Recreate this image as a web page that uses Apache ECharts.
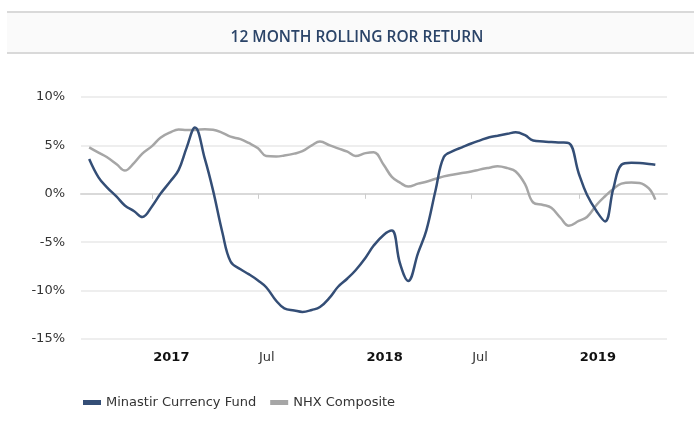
<!DOCTYPE html>
<html>
<head>
<meta charset="utf-8">
<title>12 Month Rolling ROR Return</title>
<script src="https://cdn.jsdelivr.net/npm/echarts@6/dist/echarts.min.js"></script>
<style>
  html, body { margin: 0; padding: 0; background: #fff; }
  #rorView { width: 700px; height: 428px; }
</style>
</head>
<body>
<div id="rorView"></div>
<script>
// semi-monthly dates
var dates = [
  '2016-09-15', '2016-10-01', '2016-10-15', '2016-11-01', '2016-11-15', '2016-12-01', '2016-12-15',
  '2017-01-01', '2017-01-15', '2017-02-01', '2017-02-15', '2017-03-01', '2017-03-15', '2017-04-01', '2017-04-15',
  '2017-05-01', '2017-05-15', '2017-06-01', '2017-06-15', '2017-07-01', '2017-07-15', '2017-08-01', '2017-08-15',
  '2017-09-01', '2017-09-15', '2017-10-01', '2017-10-15', '2017-11-01', '2017-11-15', '2017-12-01', '2017-12-15',
  '2018-01-01', '2018-01-15', '2018-02-01', '2018-02-15', '2018-03-01', '2018-03-15', '2018-04-01', '2018-04-15',
  '2018-05-01', '2018-05-15', '2018-06-01', '2018-06-15', '2018-07-01', '2018-07-15', '2018-08-01', '2018-08-15',
  '2018-09-01', '2018-09-15', '2018-10-01', '2018-10-15', '2018-11-01', '2018-11-15', '2018-12-01', '2018-12-15',
  '2019-01-01', '2019-01-15', '2019-02-01', '2019-02-15', '2019-03-01', '2019-03-15', '2019-04-01', '2019-04-15',
  '2019-05-01', '2019-05-12'
];

// Minastir Currency Fund, %
var fundData = [
  3.6, 1.7, 0.7, -0.3, -1.2, -1.8, -2.4,
  -1.25, 0.0, 1.3, 2.45, 4.8, 6.85, 3.6, 0.35,
  -4.0, -7.0, -7.8, -8.3, -8.95, -9.65, -11.05, -11.83,
  -12.05, -12.2, -12.0, -11.7, -10.7, -9.6, -8.75, -7.9,
  -6.6, -5.35, -4.25, -3.8, -7.2, -9.0, -6.1, -3.8,
  0.4, 3.8, 4.45, 4.8, 5.2, 5.5, 5.84, 6.0,
  6.2, 6.35, 6.05, 5.5, 5.4, 5.35, 5.3, 5.23,
  2.1, -0.1, -1.85, -2.85, 0.5, 3.0, 3.2, 3.17,
  3.08, 3.0
];

// NHX Composite, %
var nhxData = [
  4.8, 4.25, 3.8, 3.05, 2.4, 3.2, 4.15,
  4.95, 5.8, 6.35, 6.65, 6.6, 6.6, 6.67, 6.62,
  6.3, 5.9, 5.65, 5.25, 4.7, 3.9, 3.85, 3.95,
  4.15, 4.4, 5.0, 5.4, 5.0, 4.7, 4.35, 3.9,
  4.2, 4.3, 3.0, 1.75, 1.15, 0.75, 1.05, 1.25,
  1.55, 1.8, 2.0, 2.15, 2.3, 2.5, 2.7, 2.85,
  2.65, 2.3, 1.0, -0.9, -1.15, -1.45, -2.5, -3.3,
  -2.8, -2.4, -1.1, -0.25, 0.5, 1.05, 1.17, 1.12,
  0.55, -0.6
];

var xTicks = ['2017-01-01', '2017-07-01', '2018-01-01', '2018-07-01', '2019-01-01'];
var seriesNames = ['Minastir Currency Fund', 'NHX Composite'];

function toTime(d) {
    var p = d.split('-');
    return Date.UTC(+p[0], +p[1] - 1, +p[2]);
}
function pairs(vals) {
    return dates.map(function (d, i) { return [toTime(d), vals[i]]; });
}
var tickTimes = xTicks.map(toTime);
var font = 'DejaVu Sans';

var chart = echarts.init(document.getElementById('rorView'));
chart.setOption({
    animation: false,
    textStyle: { fontFamily: font },
    color: ['#344e76', '#a6a6a6'],
    //标题框
    graphic: [
        { type: 'rect', shape: { x: 7, y: 12, width: 687, height: 41 }, style: { fill: '#fafafa' }, silent: true },
        { type: 'rect', shape: { x: 7, y: 11, width: 687, height: 2 }, style: { fill: '#d9d9d9' }, silent: true },
        { type: 'rect', shape: { x: 7, y: 52, width: 687, height: 2 }, style: { fill: '#d9d9d9' }, silent: true }
    ],
    title: {
        text: '12 MONTH ROLLING ROR RETURN',
        left: 352,
        top: 33,
        textAlign: 'center',
        textVerticalAlign: 'middle',
        textStyle: { fontFamily: 'Open Sans', fontSize: 15.5, fontWeight: 600, color: '#2b4468' }
    },
    legend: {
        data: seriesNames,
        left: 78,
        top: 391,
        icon: 'rect',
        itemWidth: 18,
        itemHeight: 5,
        itemGap: 14,
        textStyle: { fontFamily: font, fontSize: 13, color: '#333' }
    },
    grid: { left: 81, right: 33, top: 97, bottom: 89 },
    xAxis: {
        type: 'value',
        min: toTime('2016-09-01'),
        max: toTime('2019-06-01'),
        axisLine: { lineStyle: { color: '#d9d9d9', width: 2 } },
        axisTick: { customValues: tickTimes, length: 5, lineStyle: { color: '#cccccc' } },
        splitLine: { show: false },
        axisLabel: {
            customValues: tickTimes,
            align: 'left',
            margin: 12,
            padding: [0, 0, 0, 1],
            fontFamily: font,
            fontSize: 13,
            color: '#333',
            formatter: function (v) {
                var d = new Date(v);
                if (d.getUTCMonth() === 0) return '{y|' + d.getUTCFullYear() + '}';
                return 'Jul';
            },
            rich: { y: { fontWeight: 'bold', fontSize: 13, color: '#111', fontFamily: font } }
        }
    },
    yAxis: {
        type: 'value',
        min: -15,
        max: 10,
        interval: 5,
        axisLine: { show: false },
        axisTick: { show: false },
        axisLabel: { formatter: '{value}%', fontFamily: font, fontSize: 13, color: '#333', margin: 16 },
        splitLine: { lineStyle: { color: '#e8e8e8', width: 1.5 } }
    },
    series: [{
        name: seriesNames[0],
        type: 'line',
        smooth: 0.4,
        showSymbol: false,
        lineStyle: { width: 2.5 },
        z: 3,
        data: pairs(fundData)
    }, {
        name: seriesNames[1],
        type: 'line',
        smooth: 0.4,
        showSymbol: false,
        lineStyle: { width: 2.5 },
        z: 2,
        data: pairs(nhxData)
    }]
});
</script>
</body>
</html>
